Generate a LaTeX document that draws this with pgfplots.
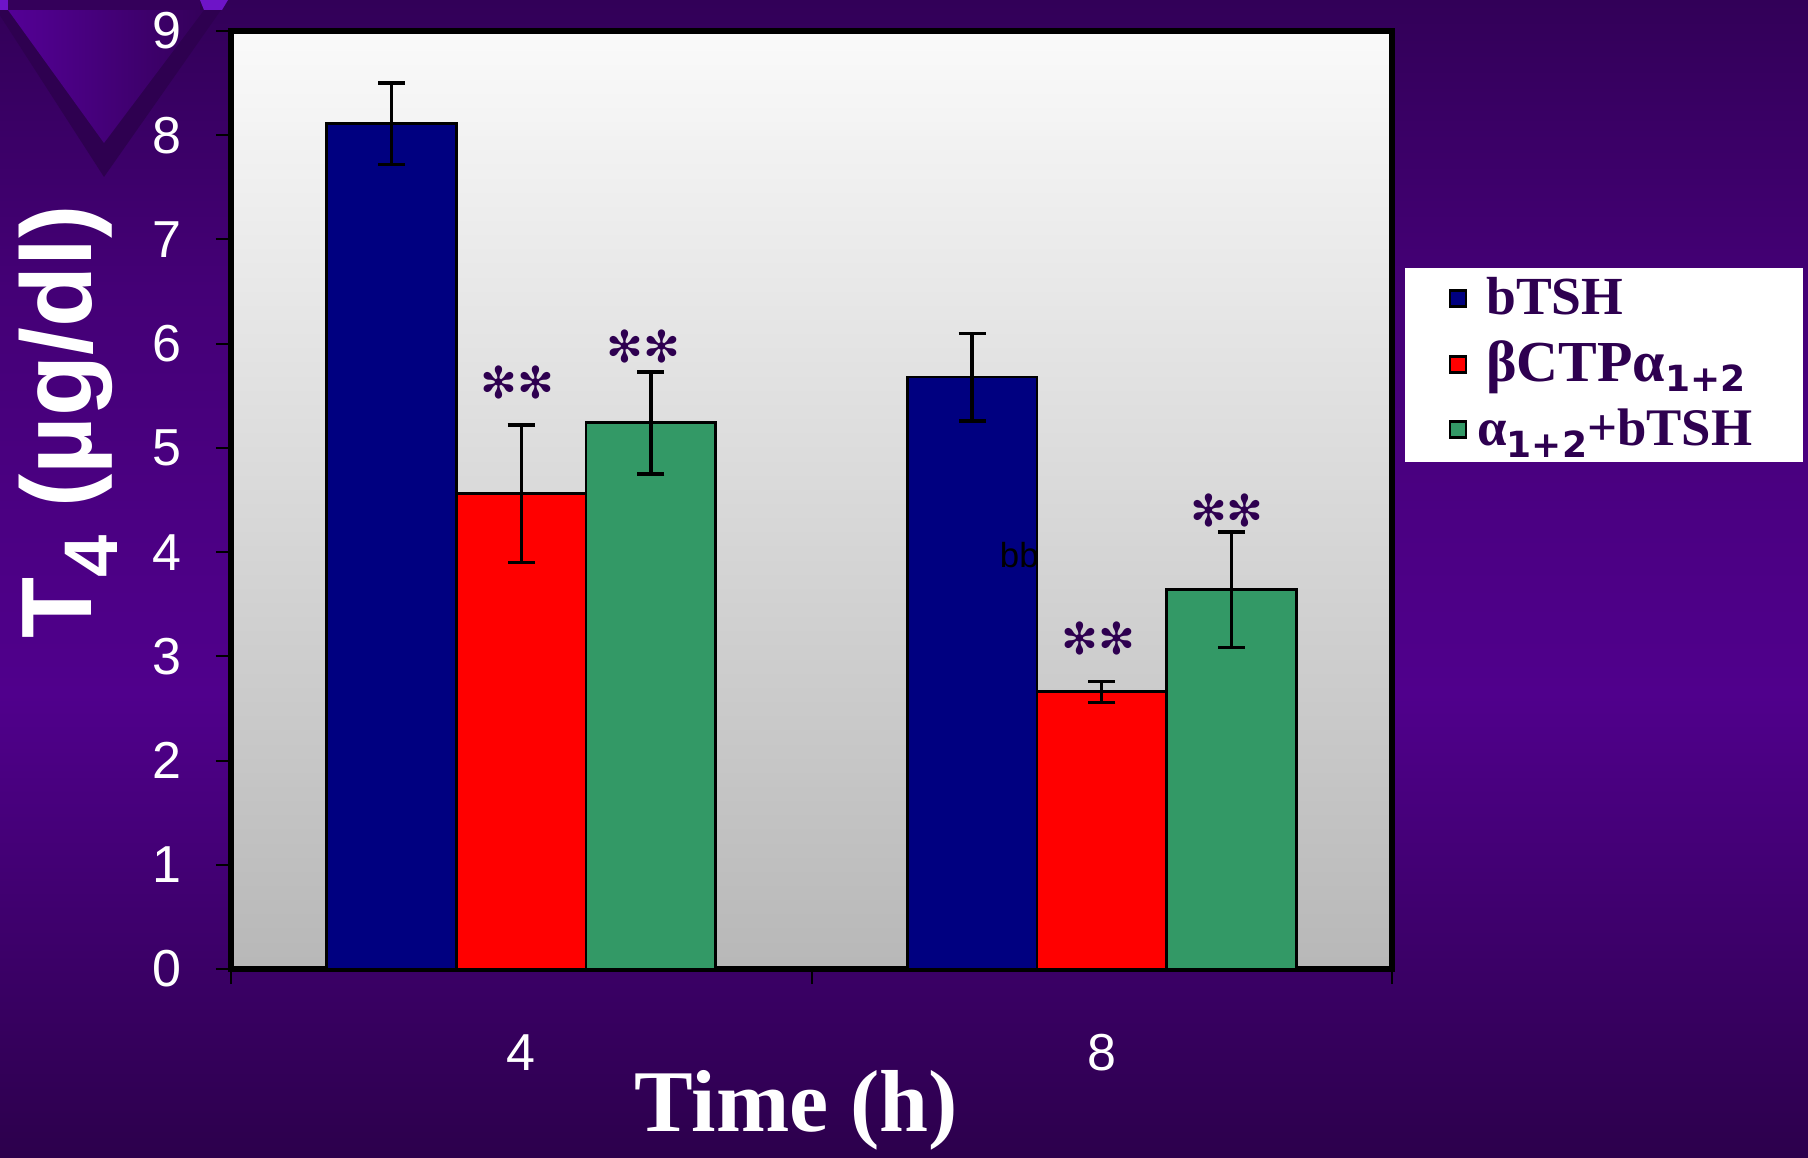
\documentclass[border=0pt]{standalone}
\usepackage{fontspec}
\setmainfont{Liberation Sans}
\newfontfamily\tnr{Liberation Serif}
\newfontfamily\dejavu{DejaVu Sans}
\usepackage{pgfplots}
\pgfplotsset{compat=1.18}
\definecolor{bg0}{RGB}{50,0,88}
\definecolor{bg1}{RGB}{68,0,118}
\definecolor{bg2}{RGB}{80,0,140}
\definecolor{bg3}{RGB}{62,0,108}
\definecolor{bg4}{RGB}{44,0,76}
\pgfdeclareverticalshading{bgshade}{100bp}{color(0bp)=(bg4); color(25bp)=(bg4); color(35bp)=(bg3); color(45bp)=(bg2); color(62.5bp)=(bg1); color(75bp)=(bg0); color(100bp)=(bg0)}
\definecolor{decodark}{RGB}{46,0,80}
\definecolor{decol}{RGB}{84,0,150}
\definecolor{decor}{RGB}{52,0,90}
\definecolor{decohi}{RGB}{110,20,200}
\definecolor{txtpurple}{RGB}{46,0,80}
\definecolor{barnavy}{RGB}{0,0,128}
\definecolor{barred}{RGB}{255,0,0}
\definecolor{bargreen}{RGB}{51,153,102}
\begin{document}
\begin{tikzpicture}
\useasboundingbox (0,0) rectangle (452pt,289.25pt);
\shade[shading=bgshade] (0,0) rectangle (452pt,289.25pt);
\begin{scope}[x=0.25pt,y=-0.25pt,shift={(0pt,289.25pt)}]
\fill[decodark] (-10,0) -- (228,0) -- (104,177) -- cycle;
\shade[left color=decol, right color=decor] (8,10) -- (204,10) -- (104,143) -- cycle;
\fill[decohi] (-10,0) -- (8,0) -- (8,10) -- (-3,10) -- cycle;
\fill[decohi] (200,0) -- (228,0) -- (222,10) -- (204,10) -- cycle;
\fill[decor] (8,0) rectangle (200,10);
\end{scope}
\fill[white] (351.25pt,173.75pt) rectangle (450.75pt,222.25pt);
\begin{axis}[
  at={(57.75pt,47pt)}, anchor=south west,
  scale only axis, width=290.25pt, height=234.5pt,
  xmin=-0.5, xmax=1.5, ymin=0, ymax=9,
  axis line style={line width=1.6pt, black},
  axis background/.style={shade, top color=black!2, bottom color=black!28},
  ytick={0,1,2,3,4,5,6,7,8,9},
  xtick={-0.5,0.5,1.5}, xticklabels={},
  extra x ticks={0,1}, extra x tick labels={4,8},
  extra x tick style={major tick length=0pt},
  tick align=outside, major tick length=3.75pt,
  xtick pos=left, ytick pos=left,
  tick style={black, line width=0.5pt},
  /pgf/number format/assume math mode=true,
  ticklabel style={font=\fontsize{13}{13}\selectfont, text=white},
  yticklabel style={anchor=east, inner sep=0pt, xshift=-8.5pt},
  xticklabel style={anchor=center, inner sep=0pt, yshift=-21pt},
  ylabel={\bfseries T\raisebox{-6.5pt}{\fontsize{19}{19}\selectfont 4} (µg/dl)},
  ylabel style={at={(rel axis cs:-0.140,0.583)}, anchor=center, text=white, font=\fontsize{25}{25}\selectfont},
  xlabel={Time (h)},
  xlabel style={at={(rel axis cs:0.487,-0.1503)}, anchor=center, text=white, font=\tnr\bfseries\fontsize{22}{22}\selectfont},
  legend style={at={(rel axis cs:1.048,0.743)}, anchor=north west, draw=none, fill=none, inner sep=0pt,
    row sep=3.2pt, nodes={inner sep=1pt}},
  legend cell align=left,
  legend image code/.code={\draw[#1, line width=0.7pt, draw=black] (0.5pt,-2pt) rectangle (4.5pt,2pt);},
  every axis plot/.append style={ybar, bar width=0.2233, bar shift=0pt, draw=black, line width=0.7pt,
    error bars/y dir=both, error bars/y explicit,
    error bars/error bar style={line width=0.85pt, black},
    error bars/error mark options={rotate=90, mark size=3.4pt, line width=0.85pt, black}},
]
\addplot[fill=barnavy] coordinates {(-0.2233,8.11) +- (0,0.39) (0.7767,5.68) +- (0,0.42)};
\addlegendentry{\hspace*{3.75pt}\color{txtpurple}\tnr\bfseries\fontsize{13.4}{13.4}\selectfont bTSH}
\addplot[fill=barred] coordinates {(0,4.56) +- (0,0.66) (1,2.66) +- (0,0.10)};
\addlegendentry{\hspace*{3.75pt}\color{txtpurple}\tnr\bfseries\fontsize{14.5}{14.5}\selectfont βCTPα\raisebox{-2.5pt}{\dejavu\bfseries\fontsize{9}{9}\selectfont 1+2}}
\addplot[fill=bargreen] coordinates {(0.2233,5.24) +- (0,0.49) (1.2233,3.64) +- (0,0.555)};
\addlegendentry{\hspace*{1.5pt}\color{txtpurple}\tnr\bfseries\fontsize{13.2}{13.2}\selectfont α\raisebox{-3pt}{\dejavu\bfseries\fontsize{9}{9}\selectfont 1+2}+bTSH}
\node[font=\fontsize{8.7}{9}\selectfont, text=black] at (axis cs:0.858,3.97) {bb};
\node[font=\dejavu\fontsize{11}{11}\selectfont, text=txtpurple] at (axis cs:-0.007,5.63) {✻✻};
\node[font=\dejavu\fontsize{11}{11}\selectfont, text=txtpurple] at (axis cs:0.2103,5.97) {✻✻};
\node[font=\dejavu\fontsize{11}{11}\selectfont, text=txtpurple] at (axis cs:0.994,3.17) {✻✻};
\node[font=\dejavu\fontsize{11}{11}\selectfont, text=txtpurple] at (axis cs:1.2157,4.40) {✻✻};
\end{axis}
\end{tikzpicture}
\end{document}
